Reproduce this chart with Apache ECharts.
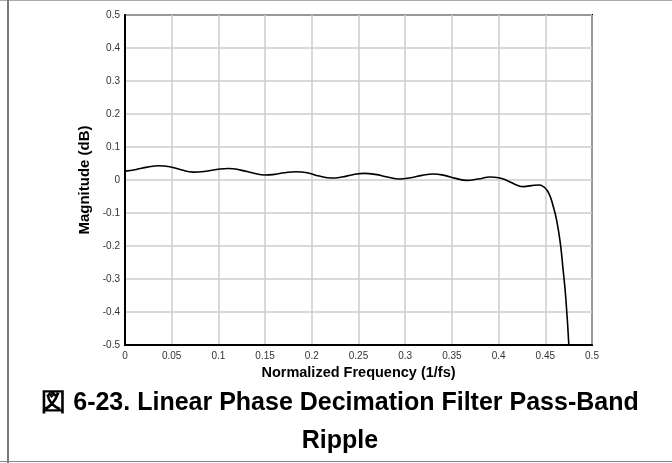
<!DOCTYPE html>
<html>
<head>
<meta charset="utf-8">
<script src="https://cdn.jsdelivr.net/npm/echarts@6/dist/echarts.min.js"></script>
<style>
html,body{margin:0;padding:0;background:#fff;}
#wrap{position:relative;width:672px;height:463px;overflow:hidden;}
#chart{position:absolute;left:0;top:0;width:672px;height:463px;}
.ln{position:absolute;}
</style>
</head>
<body>
<div id="wrap">
<div id="chart"></div>
<div class="ln" style="left:0;top:0;width:672px;height:1px;background:#aaa;"></div>
<div class="ln" style="left:7px;top:0;width:2px;height:463px;background:#777;"></div>
<div class="ln" style="left:0;top:461px;width:672px;height:1px;background:#888;"></div>
</div>
<script>
// Normalized frequency (1/fs)
const freq = [0, 0.012, 0.024, 0.036, 0.048, 0.06, 0.073, 0.085, 0.098, 0.111, 0.124, 0.137, 0.150, 0.160, 0.171, 0.183, 0.195, 0.208, 0.221, 0.232, 0.244, 0.256, 0.268, 0.281, 0.294, 0.306, 0.318, 0.330, 0.342, 0.354, 0.366, 0.378, 0.391, 0.400, 0.410, 0.420, 0.427, 0.435, 0.443, 0.448, 0.452, 0.455, 0.458, 0.462, 0.466, 0.469, 0.472, 0.4752];
// Magnitude (dB)
const magnitude = [0.027, 0.032, 0.039, 0.043, 0.040, 0.031, 0.024, 0.026, 0.032, 0.035, 0.030, 0.021, 0.015, 0.017, 0.022, 0.025, 0.022, 0.012, 0.006, 0.009, 0.016, 0.020, 0.017, 0.009, 0.003, 0.007, 0.014, 0.018, 0.014, 0.005, -0.001, 0.003, 0.009, 0.007, -0.003, -0.016, -0.020, -0.017, -0.015, -0.020, -0.032, -0.048, -0.075, -0.12, -0.19, -0.27, -0.36, -0.5];
const xTicks = ['0','0.05','0.1','0.15','0.2','0.25','0.3','0.35','0.4','0.45','0.5'];
const yTicks = ['-0.5','-0.4','-0.3','-0.2','-0.1','0','0.1','0.2','0.3','0.4','0.5'];
const xTitle = 'Normalized Frequency (1/fs)';
const yTitle = 'Magnitude (dB)';
const caption = '図 6-23. Linear Phase Decimation Filter Pass-Band\nRipple';

const fontFam = 'Liberation Sans, Arial, sans-serif';
const chart = echarts.init(document.getElementById('chart'), null, {renderer:'canvas'});
chart.setOption({
  animation:false,
  backgroundColor:'#fff',
  title:{
    text: caption,
    left: 335, top: 379, textAlign:'center',
    textStyle:{fontFamily:fontFam, fontSize:25, fontWeight:'bold', color:'#000', lineHeight:38}
  },
  grid:{left:125, top:15, width:467, height:330, show:true, borderColor:'#000', borderWidth:2, backgroundColor:'transparent'},
  xAxis:{
    type:'value', min:0, max:0.5, interval:0.05,
    name:xTitle, nameLocation:'middle', nameGap:18,
    nameTextStyle:{fontFamily:fontFam, fontSize:14.5, fontWeight:'bold', color:'#000'},
    axisLine:{show:true, onZero:false, lineStyle:{color:'#000', width:2}},
    axisTick:{show:false},
    axisLabel:{fontFamily:fontFam, fontSize:10, color:'#333', margin:6,
      formatter:(v)=>{const i=Math.round(v/0.05);return xTicks[i];}},
    splitLine:{show:true, lineStyle:{color:'#ccc', width:1.5}}
  },
  yAxis:{
    type:'value', min:-0.5, max:0.5, interval:0.1,
    name:yTitle, nameLocation:'middle', nameGap:30, nameRotate:90,
    nameTextStyle:{fontFamily:fontFam, fontSize:15, fontWeight:'bold', color:'#000'},
    axisLine:{show:true, onZero:false, lineStyle:{color:'#000', width:2}},
    axisTick:{show:false},
    axisLabel:{fontFamily:fontFam, fontSize:10, color:'#333', margin:5,
      formatter:(v)=>{const i=Math.round((v+0.5)/0.1);return yTicks[i];}},
    splitLine:{show:true, lineStyle:{color:'#ccc', width:1.5}}
  },
  series:[{
    type:'line',
    data: freq.map((f,i)=>[f, magnitude[i]]),
    smooth:0.5,
    showSymbol:false,
    clip:true,
    lineStyle:{color:'#000', width:1.6}
  }]
});
</script>
</body>
</html>
